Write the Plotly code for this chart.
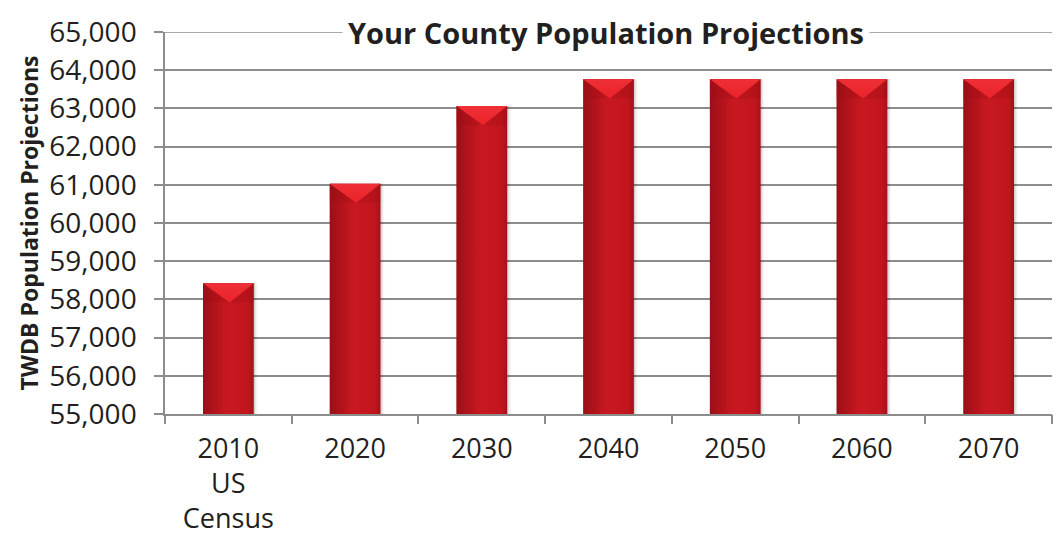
import plotly.graph_objects as go

# County population: 2010 census count and TWDB projections
categories = ["2010<br>US<br>Census", "2020", "2030", "2040", "2050", "2060", "2070"]
population = [58420, 61030, 63060, 63760, 63760, 63760, 63760]
y_ticks = [55000, 56000, 57000, 58000, 59000, 60000, 61000, 62000, 63000, 64000, 65000]
y_tick_labels = ["55,000", "56,000", "57,000", "58,000", "59,000", "60,000",
                 "61,000", "62,000", "63,000", "64,000", "65,000"]

title_text = "Your County Population Projections"
y_title = "TWDB Population Projections"

positions = list(range(len(categories)))
bar_w = 0.40
half = bar_w / 2
y_min, y_max = 55000, 65000
bevel = 0.05 * (y_max - y_min)   # depth of the lit triangle on each bar top

GRID = "#8c8c8c"
TEXT = "#231f20"
FONT = "Open Sans"

fig = go.Figure()

# soft drop shadow behind each bar
for dx, a in [(0.010, 0.10), (0.020, 0.06), (0.030, 0.03)]:
    fig.add_trace(go.Bar(
        x=positions, y=[v - y_min for v in population], base=y_min,
        width=bar_w, offset=-half + dx,
        marker=dict(color=f"rgba(0,0,0,{a})", line=dict(width=0)),
        hoverinfo="skip", showlegend=False,
    ))

# main red bars
fig.add_trace(go.Bar(
    x=positions, y=[v - y_min for v in population], base=y_min,
    width=bar_w, offset=-half,
    marker=dict(color="#c5161f", line=dict(width=0)),
    showlegend=False, name="Population",
    hovertemplate="%{y:,}<extra></extra>",
))

# cylindrical shading across each bar and the bevelled top
for p, v in zip(positions, population):
    x0, x1 = p - half, p + half
    fig.add_trace(go.Scatter(
        x=[x0, x1, x1, x0, x0], y=[y_min, y_min, v, v, y_min],
        mode="lines", line=dict(width=0), fill="toself",
        fillgradient=dict(
            type="horizontal", start=x0, stop=x1,
            colorscale=[[0.0, "rgba(90,5,10,0.40)"],
                        [0.30, "rgba(110,8,12,0.15)"],
                        [0.55, "rgba(255,70,70,0.05)"],
                        [0.88, "rgba(110,8,12,0.04)"],
                        [1.0, "rgba(90,5,10,0.30)"]],
        ),
        hoverinfo="skip", showlegend=False,
    ))
    # slightly darker bevel band along the top
    fig.add_trace(go.Scatter(
        x=[x0, x1, x1, x0, x0], y=[v - bevel, v - bevel, v, v, v - bevel],
        mode="lines", line=dict(width=0), fill="toself",
        fillcolor="rgba(160,12,20,0.30)",
        hoverinfo="skip", showlegend=False,
    ))
    # bright triangle on the top face
    fig.add_trace(go.Scatter(
        x=[x0, x1, p + 0.01, x0], y=[v, v, v - bevel, v],
        mode="lines", line=dict(width=0), fill="toself",
        fillgradient=dict(
            type="vertical", start=v - bevel, stop=v,
            colorscale=[[0.0, "rgba(236,34,42,1)"], [1.0, "rgba(238,48,54,1)"]],
        ),
        hoverinfo="skip", showlegend=False,
    ))

fig.update_layout(
    width=1062, height=539,
    margin=dict(l=165, r=10, t=32, b=125),
    paper_bgcolor="white", plot_bgcolor="white",
    barmode="overlay",
    font=dict(family=FONT, color=TEXT),
    xaxis=dict(
        range=[-0.5, len(categories) - 0.5],
        tickvals=positions, ticktext=categories,
        ticks="", showgrid=False, zeroline=False,
        showline=True, linecolor=GRID, linewidth=1.5,
        tickfont=dict(size=27, family=FONT, color=TEXT),
        ticklabelstandoff=10, automargin=False,
        fixedrange=True,
    ),
    # tick marks between the categories
    xaxis2=dict(
        overlaying="x", matches="x", anchor="y", side="bottom",
        tickvals=[p - 0.5 for p in positions] + [len(categories) - 0.5],
        ticktext=[""] * (len(categories) + 1),
        ticks="outside", ticklen=9, tickwidth=1.5, tickcolor=GRID,
        showgrid=False, zeroline=False, showline=False, automargin=False,
    ),
    yaxis=dict(
        range=[y_min, y_max],
        tickvals=y_ticks, ticktext=y_tick_labels,
        ticks="outside", ticklen=9, tickwidth=1.5, tickcolor=GRID,
        showgrid=True, gridcolor=GRID, gridwidth=1.5,
        zeroline=False, showline=True, linecolor=GRID, linewidth=1.5,
        tickfont=dict(size=28, family=FONT, color=TEXT),
        ticklabelstandoff=12, automargin=False,
        title=dict(text=y_title, font=dict(size=23, family=FONT, color=TEXT, weight="bold"),
                   standoff=4),
        fixedrange=True,
    ),
    # top border of the plot area, broken by the title box
    shapes=[dict(type="line", xref="paper", yref="y", x0=0, x1=1, y0=y_max, y1=y_max,
                 line=dict(color=GRID, width=1.5), layer="below")],
    annotations=[dict(
        text=title_text, xref="paper", yref="paper", x=0.497, y=1.0,
        xanchor="center", yanchor="middle", showarrow=False,
        bgcolor="white", borderpad=5,
        font=dict(size=29, family=FONT, color=TEXT, weight="bold"),
    )],
)

# invisible trace so the overlay axis is drawn
fig.add_trace(go.Scatter(x=[0], y=[y_min], xaxis="x2", mode="markers",
                         marker=dict(opacity=0), hoverinfo="skip", showlegend=False))

fig.write_html("out.html")
